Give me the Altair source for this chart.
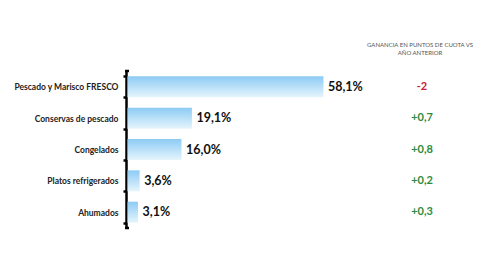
import altair as alt
import pandas as pd

categorias = [
    "Pescado y Marisco FRESCO",
    "Conservas de pescado",
    "Congelados",
    "Platos refrigerados",
    "Ahumados",
]
cuota = [58.1, 19.1, 16.0, 3.6, 3.1]
ganancia = [-2, 0.7, 0.8, 0.2, 0.3]
cabecera = ["GANANCIA EN PUNTOS DE CUOTA VS", "AÑO ANTERIOR"]

df = pd.DataFrame({"cat": categorias, "cuota": cuota, "gan": ganancia})

W, H = 344, 157
FONT = "Lato"

y_enc = alt.Y(
    "cat:N",
    sort=categorias,
    scale=alt.Scale(paddingInner=0.33, paddingOuter=0.17),
    axis=alt.Axis(
        title=None,
        domainColor="#000",
        domainWidth=2.5,
        tickBand="extent",
        tickColor="#000",
        tickSize=3,
        tickWidth=2.5,
        labelFont=FONT,
        labelFontWeight="bold",
        labelFontSize=8.5,
        labelColor="#222",
        labelPadding=5,
    ),
)
x_scale = alt.Scale(domain=[0, 102], nice=False, zero=True)

base = alt.Chart(df)

bars = base.mark_bar(
    color=alt.Gradient(
        gradient="linear",
        stops=[
            alt.GradientStop(offset=0, color="#8ccbf4"),
            alt.GradientStop(offset=1, color="#e6f5fd"),
        ],
        x1=0, x2=0, y1=0, y2=1,
    ),
    xOffset=1.5,
).encode(
    x=alt.X("cuota:Q", scale=x_scale, axis=None),
    y=y_enc,
)

valores = base.transform_calculate(
    txt="replace(format(datum.cuota, '.1f'), '.', ',') + '%'"
).mark_text(
    align="left", baseline="middle", dx=6, font=FONT, fontWeight="bold",
    fontSize=12.5, color="#111",
).encode(
    x=alt.X("cuota:Q", scale=x_scale),
    y=alt.Y("cat:N", sort=categorias),
    text="txt:N",
)

ganancias = base.transform_calculate(
    txt="(datum.gan > 0 ? '+' : '') + replace(toString(datum.gan), '.', ',')",
    signo="datum.gan < 0 ? 'neg' : 'pos'",
).mark_text(
    align="center", baseline="middle", font=FONT, fontWeight="bold", fontSize=11,
).encode(
    x=alt.value(296),
    y=alt.Y("cat:N", sort=categorias),
    text="txt:N",
    color=alt.Color(
        "signo:N",
        scale=alt.Scale(domain=["neg", "pos"], range=["#c8203a", "#2f8a3c"]),
        legend=None,
    ),
)

# two-line header above the right-hand column
cab_df = pd.DataFrame({"t": cabecera})
cab1 = alt.Chart(cab_df).transform_filter(f"datum.t == '{cabecera[0]}'").mark_text(
    align="center", baseline="middle", font=FONT, fontSize=6, color="#555",
).encode(x=alt.value(294), y=alt.value(-26), text="t:N")
cab2 = alt.Chart(cab_df).transform_filter(f"datum.t == '{cabecera[1]}'").mark_text(
    align="center", baseline="middle", font=FONT, fontSize=6, color="#555",
).encode(x=alt.value(294), y=alt.value(-18), text="t:N")

# small hooks at both ends of the axis line
uno = pd.DataFrame({"k": [0]})
gancho_sup = alt.Chart(uno).mark_rule(color="#000", strokeWidth=2.5).encode(
    x=alt.value(-1), x2=alt.value(3), y=alt.value(0)
)
gancho_inf = alt.Chart(uno).mark_rule(color="#000", strokeWidth=2.5).encode(
    x=alt.value(-1), x2=alt.value(3), y=alt.value(H)
)

chart = alt.layer(
    bars, valores, ganancias, cab1, cab2, gancho_sup, gancho_inf
).properties(
    width=W, height=H,
    padding={"left": 126, "top": 71, "right": 10, "bottom": 46},
    autosize=alt.AutoSizeParams(type="none"),
    background="#ffffff",
).configure_view(stroke=None)

chart.save("out.html", embed_options={"renderer": "svg", "actions": False})
